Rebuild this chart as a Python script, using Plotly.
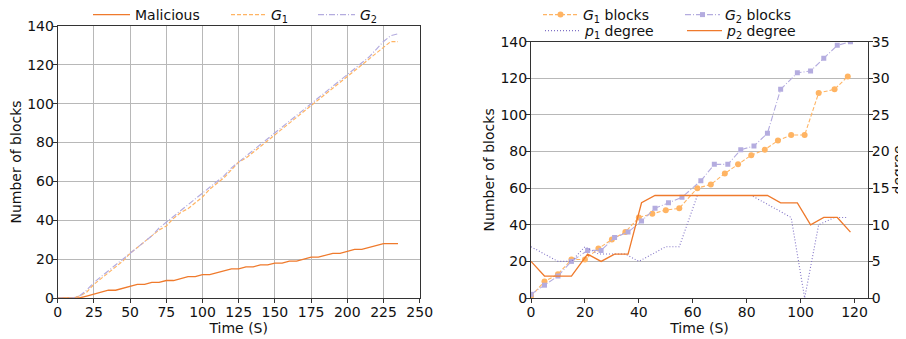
import plotly.graph_objects as go

# ---------------- Left panel data ----------------
t_left = list(range(0, 240, 5))
malicious = [0, 0, 0, 0, 1, 2, 3, 4, 4, 5, 6, 7, 7, 8, 8, 9, 9, 10, 11, 11, 12, 12, 13, 14,
             15, 15, 16, 16, 17, 17, 18, 18, 19, 19, 20, 21, 21, 22, 23, 23, 24, 25, 25, 26,
             27, 28, 28, 28]
g1_left = [0, 0, 0, 1, 3, 7, 10, 13, 16, 19, 23, 26, 29, 32, 35, 37, 41, 44, 46, 49, 52, 56, 59, 62,
           66, 70, 72, 75, 78, 81, 84, 87, 90, 93, 96, 99, 102, 105, 108, 111, 114, 117, 120, 123,
           126, 129, 132, 132]
g2_left = [0, 0, 0, 1, 4, 8, 11, 14, 17, 20, 23, 26, 29, 32, 36, 39, 42, 45, 48, 51, 54, 57, 60, 63,
           67, 70, 73, 76, 79, 82, 85, 88, 91, 94, 97, 100, 103, 106, 109, 112, 115, 118, 121, 124,
           128, 132, 135, 136]

# ---------------- Right panel data ----------------
t_g1 = [0, 5, 10, 15, 20, 25, 30, 35, 40, 45, 50, 55, 61.7, 66.7, 71.9, 76.8, 81.7, 86.7, 91.6,
        96.5, 101.5, 106.7, 112.6, 117.5]
g1_blocks = [1, 9, 13, 21, 21, 27, 32, 36, 44, 46, 48, 49, 60, 62, 68, 73, 78, 81, 86, 89, 89,
             112, 114, 121]
p1_degree = [7, 6, 5, 5, 7, 6, 6, 6, 5, 6, 7, 7, 14, 14, 14, 14, 14, 13, 12, 11, 0, 10, 11, 11]

t_g2 = [0, 5, 10, 15, 21, 26, 31, 36, 41, 46, 51, 56, 63, 68, 73, 77.8, 82.7, 87.7, 92.6, 98.8,
        103.7, 108.6, 113.6, 118.5]
g2_blocks = [2, 7, 12, 20, 26, 26, 33, 36, 42, 49, 52, 55, 64, 73, 73, 81, 83, 90, 114, 123, 124,
             131, 138, 140]
p2_degree = [5, 3, 3, 3, 6, 5, 6, 6, 13, 14, 14, 14, 14, 14, 14, 14, 14, 14, 13, 13, 10, 11, 11, 9]

C_MAL = "#ef7a2c"
C_G1 = "#ffb463"
C_G2 = "#b4acdf"
C_P1 = "#8072c6"
FONT = "DejaVu Sans"
FS = 14

# The page body has an 8px margin, so the figure starts at (8, 8) in the window.
OFF = 8
W, H = 906 - OFF, 339 - OFF
def px(x):
    return (x - OFF) / W
def py(y):
    return 1 - (y - OFF) / H

fig = go.Figure()

# Left panel
fig.add_trace(go.Scatter(x=t_left, y=malicious, mode="lines", name="Malicious",
                         line=dict(color=C_MAL, width=1.3), xaxis="x", yaxis="y", legend="legend"))
fig.add_trace(go.Scatter(x=t_left, y=g1_left, mode="lines", name="<i>G</i><sub>1</sub>",
                         line=dict(color=C_G1, width=1.2, dash="4px,2px"), xaxis="x", yaxis="y",
                         legend="legend4"))
fig.add_trace(go.Scatter(x=t_left, y=g2_left, mode="lines", name="<i>G</i><sub>2</sub>",
                         line=dict(color=C_G2, width=1.2, dash="6px,2px,1px,2px"), xaxis="x",
                         yaxis="y", legend="legend5"))

# Right panel
fig.add_trace(go.Scatter(x=t_g1, y=g1_blocks, mode="lines+markers", name="<i>G</i><sub>1</sub> blocks",
                         line=dict(color=C_G1, width=1.1, dash="4px,2px"),
                         marker=dict(symbol="circle", size=6, color=C_G1),
                         xaxis="x2", yaxis="y2", legend="legend2"))
fig.add_trace(go.Scatter(x=t_g2, y=g2_blocks, mode="lines+markers", name="<i>G</i><sub>2</sub> blocks",
                         line=dict(color=C_G2, width=1.1, dash="6px,2px,1px,2px"),
                         marker=dict(symbol="square", size=5, color=C_G2),
                         xaxis="x2", yaxis="y2", legend="legend2"))
fig.add_trace(go.Scatter(x=t_g1, y=p1_degree, mode="lines", name="<i>p</i><sub>1</sub> degree",
                         line=dict(color=C_P1, width=1.1, dash="1px,2px"),
                         xaxis="x2", yaxis="y3", legend="legend3"))
fig.add_trace(go.Scatter(x=t_g2, y=p2_degree, mode="lines", name="<i>p</i><sub>2</sub> degree",
                         line=dict(color=C_MAL, width=1.3),
                         xaxis="x2", yaxis="y3", legend="legend3"))

axis_common = dict(showline=True, linecolor="#333333", linewidth=1, ticks="outside", ticklen=4,
                   tickcolor="#333333", tickfont=dict(family=FONT, size=FS, color="#111111"),
                   zeroline=False, gridcolor="#b8b8b8", gridwidth=1, automargin=False)

def leg(x, y, iw, ew=None):
    d = dict(orientation="h", x=px(x), y=py(y), xanchor="left", yanchor="middle",
             font=dict(family=FONT, size=FS, color="#111111"), bgcolor="rgba(0,0,0,0)",
             borderwidth=0, itemwidth=iw)
    if ew is not None:
        d["entrywidth"] = ew
    return d

fig.update_layout(
    template="none",
    width=W, height=H,
    margin=dict(l=0, r=0, t=0, b=0, autoexpand=False),
    paper_bgcolor="white", plot_bgcolor="white",
    font=dict(family=FONT, size=FS, color="#111111"),
    showlegend=True,
    xaxis=dict(domain=[px(57.7), px(419.7)], range=[0, 250], dtick=25, tick0=0, showgrid=True,
               mirror=True, anchor="y", ticklabelstandoff=-3,
               title=dict(text="Time (S)", standoff=2, font=dict(family=FONT, size=FS)),
               **axis_common),
    yaxis=dict(domain=[py(298), py(26)], range=[0, 140], dtick=20, showgrid=True, mirror=True,
               anchor="x", ticklabelstandoff=-4,
               title=dict(text="Number of blocks", standoff=8, font=dict(family=FONT, size=FS)),
               **axis_common),
    xaxis2=dict(domain=[px(531), px(868)], range=[0, 125], dtick=20, tick0=0, showgrid=False,
                mirror=True, anchor="y2", ticklabelstandoff=-3,
                title=dict(text="Time (S)", standoff=2, font=dict(family=FONT, size=FS)),
                **axis_common),
    yaxis2=dict(domain=[py(298), py(41.7)], range=[0, 140], dtick=20, showgrid=True, anchor="x2",
                ticklabelstandoff=-4,
                title=dict(text="Number of blocks", standoff=2, font=dict(family=FONT, size=FS)),
                **axis_common),
    yaxis3=dict(range=[0, 35], dtick=5, showgrid=False, overlaying="y2", side="right", anchor="x2",
                ticklabelstandoff=-4,
                title=dict(text="degree", standoff=7, font=dict(family=FONT, size=FS)),
                **axis_common),
    legend=leg(88, 15, 37),
    legend4=leg(226, 15, 35),
    legend5=leg(313, 15, 37),
    legend2=leg(538, 15, 35, 92),
    legend3=leg(540, 31, 35, 92),
)

fig.write_html("out.html")
